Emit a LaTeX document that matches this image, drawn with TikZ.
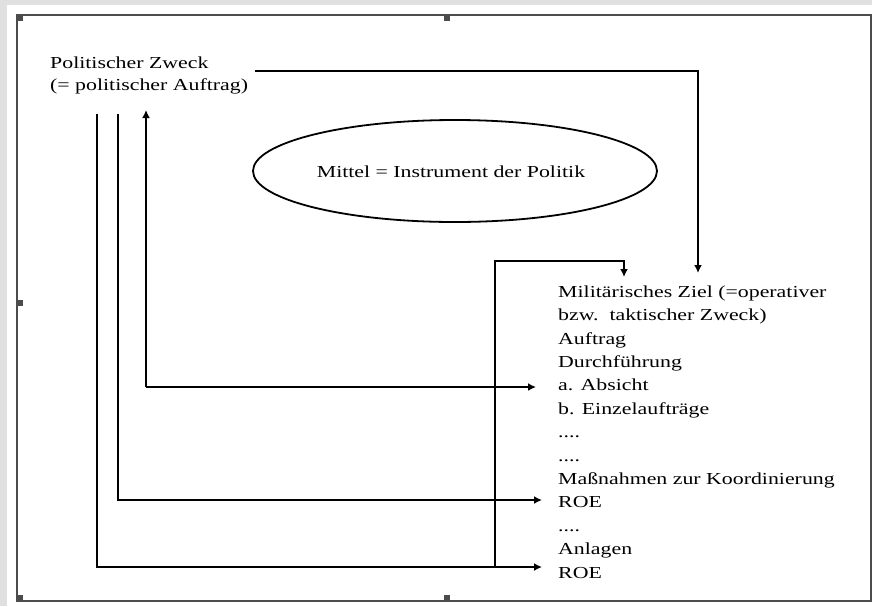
\documentclass[tikz,border=0pt]{standalone}
\usepackage{fontspec}
\setmainfont{Liberation Serif}
\newfontfamily\widefont[FakeStretch=1.3]{Liberation Serif}
\usetikzlibrary{arrows.meta,shapes.geometric}
\tikzset{
  conn/.style={line width=2.6pt, -{Latex[length=8pt,width=8pt]}},
  handle/.style={fill=black!70, draw=none},
  txt/.style={font=\widefont\fontsize{16.8}{23.4}\selectfont, inner sep=0pt},
}
\begin{document}
\begin{tikzpicture}[x=1pt,y=-1pt]
\useasboundingbox (0,0) rectangle (872,606);
\fill[white] (0,0) rectangle (872,606);
\fill[black!12] (0,0) rectangle (872,5);
\fill[black!12] (0,0) rectangle (7,606);
% frame
\draw[black!70, line width=1.6pt] (17,15) rectangle (871,601);
\fill[handle] (17,15) rectangle (23,21);
\fill[handle] (444,15) rectangle (450,21);
\fill[handle] (17,300) rectangle (23,306);
\fill[handle] (17,595) rectangle (23,601);
\fill[handle] (444,595) rectangle (450,601);

% top-left text
\node[txt, font=\widefont\fontsize{16.8}{22}\selectfont, anchor=base west, align=left] (pz) at (50,90) {Politischer Zweck\\(= politischer Auftrag)};
% ellipse
\node[draw, line width=1.8pt, ellipse, minimum width=404pt, minimum height=102pt, inner sep=0pt] (mit) at (455,171) {};
\node[txt] (mittxt) at (451,172) {Mittel = Instrument der Politik};

% right text block
\node[txt, anchor=base west, align=left] (mz) at (558,578) {Militärisches Ziel (=operativer\\bzw.\ \ taktischer Zweck)\\Auftrag\\Durchführung\\a. Absicht\\b. Einzelaufträge\\....\\....\\Maßnahmen zur Koordinierung\\ROE\\....\\Anlagen\\ROE};

% coordinates
\coordinate (t1) at (255,71);
\coordinate (t2) at (698,71);
\coordinate (t3) at (698,273);
\coordinate (a1) at (146,110);
\coordinate (a2) at (146,387);
\coordinate (a3) at (536,387);
\coordinate (b1) at (118,114);
\coordinate (b2) at (118,500);
\coordinate (b3) at (542,500);
\coordinate (c1) at (97,114);
\coordinate (c2) at (97,567);
\coordinate (c3) at (542,567);
\coordinate (d1) at (495,567);
\coordinate (d2) at (495,261);
\coordinate (d3) at (624,261);
\coordinate (d4) at (624,277);

\draw[conn] (t1) -- (t2) -- (t3);
\draw[conn] (a2) -- (a1);
\draw[conn] (a2) -- (a3);
\draw[conn] (b1) -- (b2) -- (b3);
\draw[conn] (c1) -- (c2) -- (c3);
\draw[conn] (d1) -- (d2) -- (d3) -- (d4);
\end{tikzpicture}
\end{document}
